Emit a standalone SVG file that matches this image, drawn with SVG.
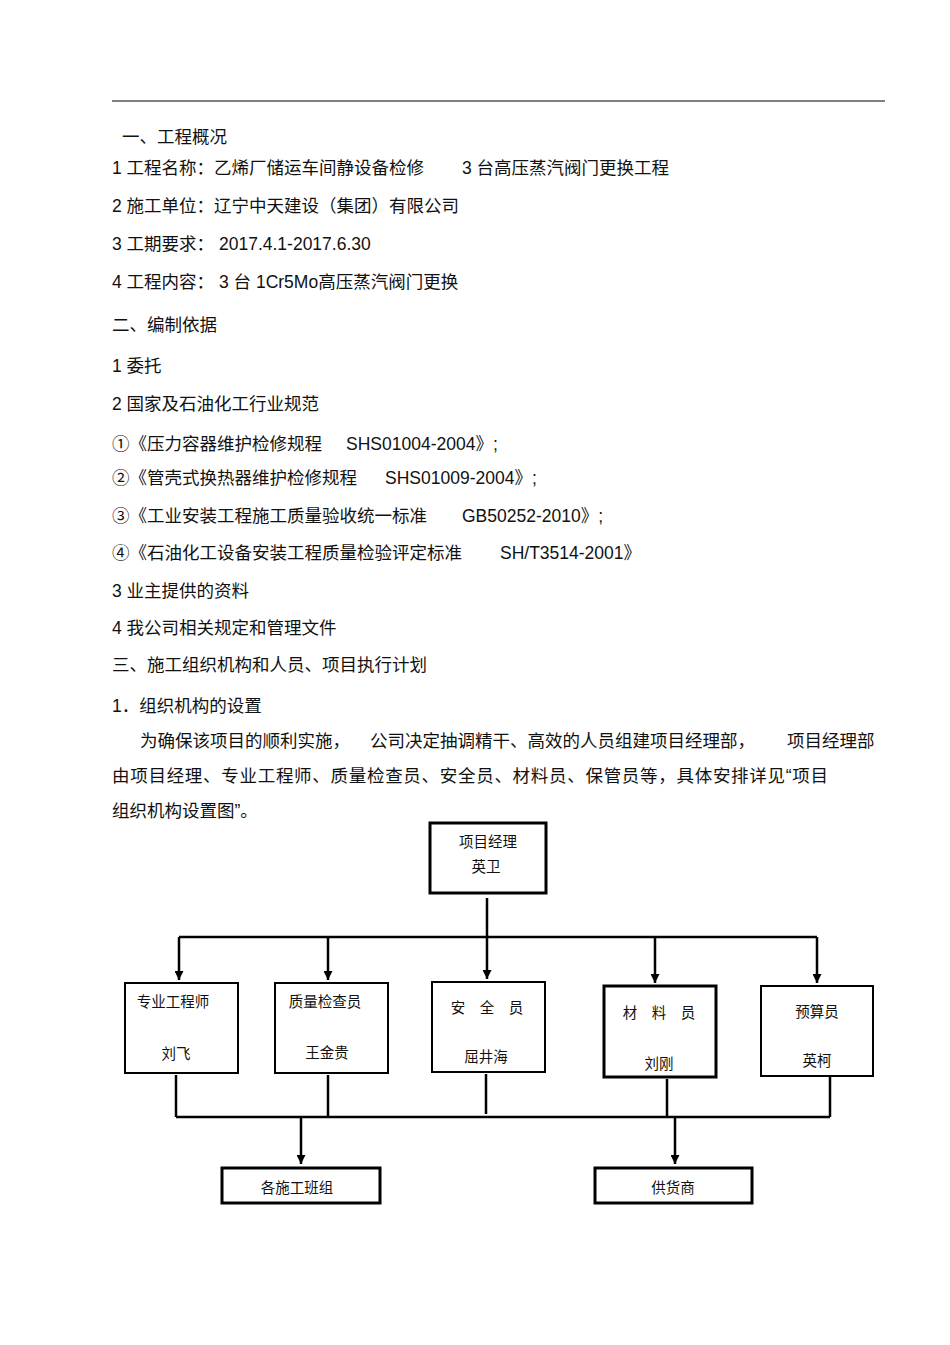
<svg xmlns="http://www.w3.org/2000/svg" width="950" height="1345" viewBox="0 0 950 1345">
<defs>
<marker id="a" viewBox="0 0 10 10" refX="10" refY="5" markerWidth="10" markerHeight="9" orient="auto" markerUnits="userSpaceOnUse"><path d="M0,0 L10,5 L0,10 Z" fill="#000"/></marker></defs>
<style>
text{font-family:"Liberation Sans","Noto Sans CJK SC",sans-serif;fill:#111}
.b{font-size:17.5px}.s{font-size:14.5px}
.box{fill:#fff;stroke:#000;stroke-width:2}
.bx{fill:#fff;stroke:#000;stroke-width:3}
.c{fill:none;stroke:#000;stroke-width:2.5}
</style>
<rect width="950" height="1345" fill="#fff"/>
<line x1="112" y1="101" x2="885" y2="101" stroke="#000" stroke-width="1.2"/>
<g class="b" xml:space="preserve">
<text x="122" y="143">一、工程概况</text>
<text x="112" y="174">1  工程名称：乙烯厂储运车间静设备检修</text><text x="462" y="174">3 台高压蒸汽阀门更换工程</text>
<text x="112" y="212">2  施工单位：辽宁中天建设（集团）有限公司</text>
<text x="112" y="250">3  工期要求：  2017.4.1-2017.6.30</text>
<text x="112" y="288">4  工程内容：   3  台 1Cr5Mo高压蒸汽阀门更换</text>
<text x="112" y="331">二、编制依据</text>
<text x="112" y="372">1  委托</text>
<text x="112" y="410">2    国家及石油化工行业规范</text>
<text x="112" y="450">①《压力容器维护检修规程</text><text x="346" y="450">SHS01004-2004》;</text>
<text x="112" y="484">②《管壳式换热器维护检修规程</text><text x="385" y="484">SHS01009-2004》;</text>
<text x="112" y="522">③《工业安装工程施工质量验收统一标准</text><text x="462" y="522">GB50252-2010》;</text>
<text x="112" y="559">④《石油化工设备安装工程质量检验评定标准</text><text x="500" y="559">SH/T3514-2001》</text>
<text x="112" y="597">3 业主提供的资料</text>
<text x="112" y="634">4    我公司相关规定和管理文件</text>
<text x="112" y="671">三、施工组织机构和人员、项目执行计划</text>
<text x="112" y="712">1．组织机构的设置</text>
<text x="140" y="747">为确保该项目的顺利实施，</text><text x="370" y="747">公司决定抽调精干、高效的人员组建项目经理部，</text><text x="787" y="747">项目经理部</text>
<text x="112" y="782" textLength="716">由项目经理、专业工程师、质量检查员、安全员、材料员、保管员等，具体安排详见“项目</text>
<text x="112" y="817">组织机构设置图”。</text>
</g>
<g id="connectors">
<path class="c" d="M487,898 V937 M179,937 H817"/>
<path class="c" marker-end="url(#a)" d="M179,937 V980"/>
<path class="c" marker-end="url(#a)" d="M328,937 V980"/>
<path class="c" marker-end="url(#a)" d="M487,937 V979"/>
<path class="c" marker-end="url(#a)" d="M655,937 V983"/>
<path class="c" marker-end="url(#a)" d="M817,937 V983"/>
<path class="c" d="M176,1075 V1117 M328,1075 V1117 M486,1074 V1114 M667,1079 V1117 M830,1077 V1117 M176,1117 H830"/>
<path class="c" marker-end="url(#a)" d="M301,1117 V1164"/>
<path class="c" marker-end="url(#a)" d="M675,1117 V1164"/>
</g>
<g id="pm"><rect class="bx" x="430" y="823" width="116" height="70"/><text class="s" x="488" y="847" text-anchor="middle">项目经理</text><text class="s" x="486" y="872" text-anchor="middle">英卫</text></g>
<g id="n1"><rect class="box" x="125" y="983" width="113" height="90"/><text class="s" x="173" y="1007" text-anchor="middle">专业工程师</text><text class="s" x="176" y="1059" text-anchor="middle">刘飞</text></g>
<g id="n2"><rect class="box" x="275" y="983" width="113" height="90"/><text class="s" x="325" y="1007" text-anchor="middle">质量检查员</text><text class="s" x="327" y="1058" text-anchor="middle">王金贵</text></g>
<g id="n3"><rect class="box" x="432" y="982" width="113" height="90"/><text class="s" x="487" y="1013" text-anchor="middle">安　全　员</text><text class="s" x="486" y="1062" text-anchor="middle">屈井海</text></g>
<g id="n4"><rect class="bx" x="604" y="986" width="112" height="91"/><text class="s" x="659" y="1018" text-anchor="middle">材　料　员</text><text class="s" x="659" y="1069" text-anchor="middle">刘刚</text></g>
<g id="n5"><rect class="box" x="761" y="986" width="112" height="90"/><text class="s" x="817" y="1017" text-anchor="middle">预算员</text><text class="s" x="817" y="1066" text-anchor="middle">英柯</text></g>
<g id="n6"><rect class="bx" x="222" y="1168" width="158" height="35"/><text class="s" x="297" y="1193" text-anchor="middle">各施工班组</text></g>
<g id="n7"><rect class="bx" x="595" y="1168" width="157" height="35"/><text class="s" x="673" y="1193" text-anchor="middle">供货商</text></g>
</svg>
